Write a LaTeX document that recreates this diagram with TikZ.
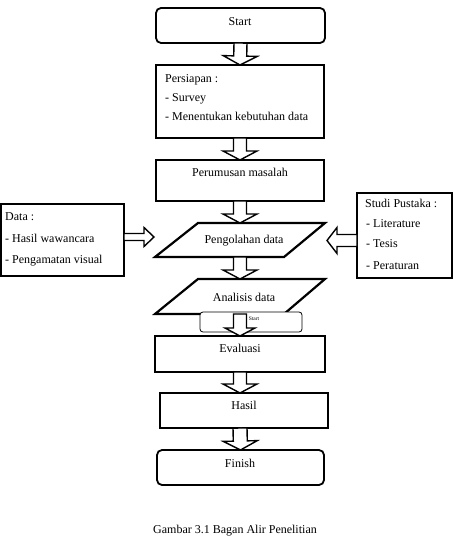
\documentclass[tikz,border=0pt]{standalone}
\usepackage{fontspec}
\setmainfont{Liberation Serif}
\usetikzlibrary{calc}
\newcommand\fatarrow[5]{%
  \coordinate (fac) at ($(#2)!#5!(#1)$);
  \draw[fatarr] ($(#1)!#3!90:(#2)$) -- ($(fac)!#3!90:(#2)$) -- ($(fac)!#4!90:(#2)$) -- (#2)
    -- ($(fac)!#4!-90:(#2)$) -- ($(fac)!#3!-90:(#2)$) -- ($(#1)!#3!-90:(#2)$) -- cycle;}
\begin{document}
\begin{tikzpicture}[x=1pt,y=-1pt,
  box/.style={draw, line width=1.8pt, rectangle, outer sep=0pt, inner sep=0pt},
  rbox/.style={box, rounded corners=5pt},
  para/.style={draw, line width=2.2pt, line join=miter, fill=white},
  fatarr/.style={draw, line width=1.4pt, fill=white, line join=miter},
  txt/.style={font=\fontsize{12}{14}\selectfont, inner sep=0pt, text height=8.5pt, text depth=2.5pt},
  ltxt/.style={txt, anchor=west},
  smallbox/.style={draw, line width=0.8pt, rounded corners=3pt, fill=white, outer sep=0pt, inner sep=0pt}]
\useasboundingbox (0,0) rectangle (454,559);

% main column boxes
\node[rbox, minimum width=169pt, minimum height=35pt] (start) at (240.5,25.5) {};
\node[txt] (tstart) at (240,23) {Start};

\node[box, minimum width=168pt, minimum height=73pt] (pers) at (240,101.5) {};
\node[ltxt] (p1) at (165,80) {Persiapan :};
\node[ltxt] (p2) at (165,99) {- Survey};
\node[ltxt] (p3) at (165,118) {- Menentukan kebutuhan data};

\node[box, minimum width=168pt, minimum height=41pt] (perum) at (240,180.5) {};
\node[txt] (tperum) at (240,173) {Perumusan masalah};

% Pengolahan data parallelogram
\coordinate (pengtop) at (240,223);
\coordinate (pengbot) at (240,257);
\draw[para] (155,257) -- (284,257) -- (325,223) -- (198,223) -- cycle;
\node[txt] (peng) at (244,240) {Pengolahan data};

% Analisis data parallelogram
\coordinate (anatop) at (240,279);
\coordinate (anabot) at (240,314);
\draw[para] (155,314) -- (284,314) -- (325,279) -- (198,279) -- cycle;
\node[txt] (ana) at (244,298) {Analisis data};

% small box
\node[smallbox, minimum width=102pt, minimum height=20pt] (small) at (251,322) {};
\node[font=\fontsize{5.5}{6}\selectfont, inner sep=0pt] (tsmall) at (254,319) {Start};

\node[box, minimum width=170pt, minimum height=36pt] (eval) at (240,354) {};
\node[txt] (teval) at (240,349) {Evaluasi};

\node[box, minimum width=168pt, minimum height=35pt] (hasil) at (244,410.5) {};
\node[txt] (thasil) at (244,406) {Hasil};

\node[rbox, minimum width=167pt, minimum height=35pt] (finish) at (240.5,467.5) {};
\node[txt] (tfinish) at (240,464) {Finish};

% side boxes
\node[box, minimum width=123pt, minimum height=72pt] (data) at (62.5,240) {};
\node[ltxt] (d1) at (5,217) {Data :};
\node[ltxt] (d2) at (5,239) {- Hasil wawancara};
\node[ltxt] (d3) at (5,260) {- Pengamatan visual};

\node[box, minimum width=95pt, minimum height=85pt] (studi) at (404.5,235.5) {};
\node[ltxt] (s1) at (365,204) {Studi Pustaka :};
\node[ltxt] (s2) at (366,224) {- Literature};
\node[ltxt] (s3) at (366,244) {- Tesis};
\node[ltxt] (s4) at (366,266) {- Peraturan};

% vertical block arrows
\fatarrow{start.south}{pers.north}{6.5pt}{17pt}{9pt}
\fatarrow{pers.south}{perum.north}{6.5pt}{17pt}{9pt}
\fatarrow{perum.south}{pengtop}{6.5pt}{17pt}{9pt}
\fatarrow{pengbot}{anatop}{6.5pt}{17pt}{9pt}
\fatarrow{anabot}{eval.north}{6.5pt}{15pt}{8pt}
\coordinate (hasiltop) at (hasil.north -| eval.south);
\coordinate (hasilbot) at (hasil.south -| eval.south);
\fatarrow{eval.south}{hasiltop}{6.5pt}{17pt}{9pt}
\fatarrow{hasilbot}{finish.north}{7pt}{17pt}{9pt}

% horizontal block arrows
\coordinate (dtail) at ($(data.east)+(0,-3)$);
\coordinate (dtip) at ($(dtail)+(30,0)$);
\fatarrow{dtail}{dtip}{3.5pt}{9.5pt}{10pt}
\coordinate (stail) at ($(studi.west)+(0,5)$);
\coordinate (stip) at ($(stail)+(-30,0)$);
\fatarrow{stail}{stip}{6pt}{13pt}{10pt}

% caption
\node[txt] (cap) at (235,530) {Gambar 3.1 Bagan Alir Penelitian};
\end{tikzpicture}
\end{document}
